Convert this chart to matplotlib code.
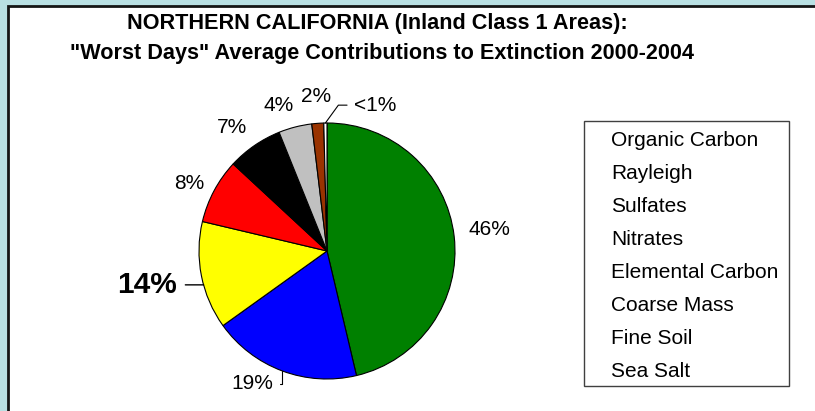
import numpy as np
import matplotlib
matplotlib.use("Agg")
import matplotlib.pyplot as plt
from matplotlib.patches import Rectangle

plt.rcParams['font.family'] = ['Liberation Sans', 'DejaVu Sans']

# Dados
categorias = ['Organic Carbon', 'Rayleigh', 'Sulfates', 'Nitrates',
              'Elemental Carbon', 'Coarse Mass', 'Fine Soil', 'Sea Salt']
valores = [46.3, 18.8, 13.6, 8.2, 7.0, 4.2, 1.5, 0.4]
rotulos = ['46%', '19%', '14%', '8%', '7%', '4%', '2%', '<1%']
cores = ['#008000', '#0000FF', '#FFFF00', '#FF0000',
         '#000000', '#C0C0C0', '#993300', '#FFFFFF']

titulo1 = 'NORTHERN CALIFORNIA (Inland Class 1 Areas):'
titulo2 = '"Worst Days" Average Contributions to Extinction 2000-2004'

W, H = 815, 411
fig = plt.figure(figsize=(W / 100, H / 100), dpi=100)
fig.patch.set_facecolor('#B9E0E3')

# Fundo (moldura branca com borda escura)
bg = fig.add_axes([0, 0, 1, 1])
bg.set_xlim(0, W)
bg.set_ylim(H, 0)
bg.axis('off')
bg.add_patch(Rectangle((8, 6), W + 50, H + 50, facecolor='white',
                       edgecolor='#151515', lw=2, clip_on=False))

# Título
bg.text(377, 24, titulo1, ha='center', va='center', fontsize=15.6, fontweight='bold')
bg.text(382, 53, titulo2, ha='center', va='center', fontsize=15.6, fontweight='bold')

# Legenda (sem marcadores)
bg.add_patch(Rectangle((584, 121), 205, 265, facecolor='white',
                       edgecolor='#404040', lw=1))
for i, cat in enumerate(categorias):
    bg.text(611, 140 + 33 * i, cat, ha='left', va='center', fontsize=15)

# Pizza
cx, cy, r_px = 327, 251, 128
half = 130
ax = fig.add_axes([(cx - half) / W, (H - cy - half) / H, 2 * half / W, 2 * half / H])
lim = half / r_px

wedges, _ = ax.pie(valores, colors=cores, startangle=90, counterclock=False,
                   radius=1.0, wedgeprops={'edgecolor': 'black', 'linewidth': 0.8})
ax.set_xlim(-lim, lim)
ax.set_ylim(-lim, lim)
ax.set_aspect('equal')
ax.axis('off')

# posição dos rótulos: raio e deslocamento angular (ajustes manuais)
raio_rot = [1.28, 1.19, 1.43, 1.20, 1.22, 1.20, 1.21, 1.20]
desloc_ang = [1, -9, -0.5, 2, 3, 4, 0, -19]

for i, (w, txt) in enumerate(zip(wedges, rotulos)):
    meio = (w.theta1 + w.theta2) / 2
    ang = np.radians(meio + desloc_ang[i])
    tx, ty = raio_rot[i] * np.cos(ang), raio_rot[i] * np.sin(ang)
    if txt == '14%':
        xy = (-np.sqrt(1 - ty ** 2), ty)
        ax.annotate(txt, xy=xy, xytext=(tx, ty), ha='center', va='center',
                    fontsize=21.5, fontweight='bold', annotation_clip=False,
                    arrowprops=dict(arrowstyle='-', lw=1.0, shrinkA=4, shrinkB=0,
                                    color='black'))
    elif txt in ('19%', '<1%'):
        a = np.radians(meio)
        angB = 90 if txt == '19%' else 54
        ax.annotate(txt, xy=(np.cos(a), np.sin(a)), xytext=(tx, ty),
                    ha='center', va='center', fontsize=15, annotation_clip=False,
                    arrowprops=dict(arrowstyle='-', lw=0.8, shrinkA=3, shrinkB=0,
                                    color='black',
                                    connectionstyle=f'angle,angleA=0,angleB={angB},rad=0'))
    else:
        ax.text(tx, ty, txt, ha='center', va='center', fontsize=15)

plt.savefig('out.png', dpi=100, facecolor=fig.get_facecolor())
